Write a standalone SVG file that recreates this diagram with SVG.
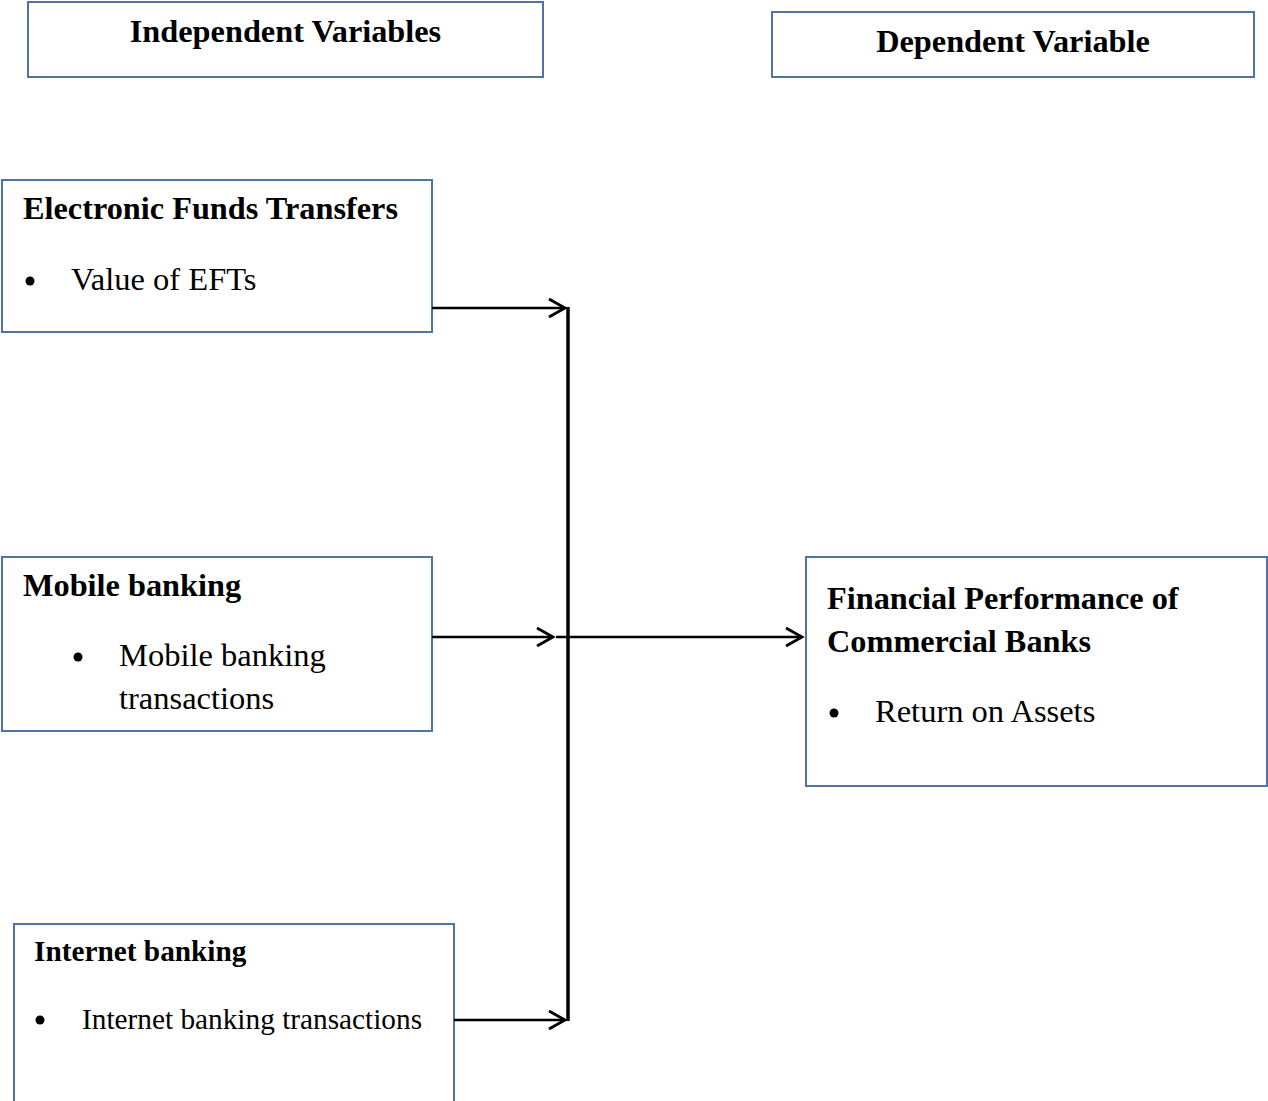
<svg xmlns="http://www.w3.org/2000/svg" width="1268" height="1101" viewBox="0 0 1268 1101">
<style>
.box{fill:#fff;stroke:#4f73a8;stroke-width:2}
.t{font-family:"Liberation Serif","Times New Roman",serif;fill:#000}
.b{font-weight:bold}
.c{stroke:#000;stroke-width:2.6;fill:none}
</style>
<defs>
<marker id="arr" markerUnits="userSpaceOnUse" markerWidth="24" markerHeight="24" refX="20" refY="12" orient="auto">
<path d="M4,3 L20,12 L4,21" fill="none" stroke="#000" stroke-width="2.8"/>
</marker>
</defs>
<rect width="1268" height="1101" fill="#fff"/>
<g id="independent-header">
<rect class="box" x="28" y="2" width="515" height="75"/>
<text class="t b" x="285.5" y="42" font-size="32.3" text-anchor="middle">Independent Variables</text>
</g>
<g id="dependent-header">
<rect class="box" x="772" y="12" width="482" height="65"/>
<text class="t b" x="1013" y="52" font-size="32.3" text-anchor="middle">Dependent Variable</text>
</g>
<g id="eft">
<rect class="box" x="2" y="180" width="430" height="152"/>
<text class="t b" x="23" y="219" font-size="32.3">Electronic Funds Transfers</text>
<circle cx="30" cy="281" r="4.5"/>
<text class="t" x="71" y="290" font-size="32.5">Value of EFTs</text>
</g>
<g id="mobile">
<rect class="box" x="2" y="557" width="430" height="174"/>
<text class="t b" x="23" y="596" font-size="32.3">Mobile banking</text>
<circle cx="78" cy="657" r="4.5"/>
<text class="t" x="119" y="666" font-size="32.5">Mobile banking</text>
<text class="t" x="119" y="709" font-size="32.5">transactions</text>
</g>
<g id="internet">
<rect class="box" x="14" y="924" width="440" height="182"/>
<text class="t b" x="34" y="961" font-size="29.3">Internet banking</text>
<circle cx="40" cy="1020" r="4.5"/>
<text class="t" x="82" y="1029" font-size="29.3">Internet banking transactions</text>
</g>
<g id="performance">
<rect class="box" x="806" y="557" width="461" height="229"/>
<text class="t b" x="827" y="609" font-size="32.3">Financial Performance of</text>
<text class="t b" x="827" y="652" font-size="32.3">Commercial Banks</text>
<circle cx="834" cy="713" r="4.5"/>
<text class="t" x="875" y="722" font-size="32.5">Return on Assets</text>
</g>
<g id="connectors">
<line x1="568" y1="307" x2="568" y2="1021" stroke="#000" stroke-width="3.5"/>
<line class="c" x1="432" y1="308" x2="565" y2="308" marker-end="url(#arr)"/>
<line class="c" x1="432" y1="637" x2="553" y2="637" marker-end="url(#arr)"/>
<line class="c" x1="556" y1="637" x2="802" y2="637" marker-end="url(#arr)"/>
<line class="c" x1="454" y1="1020" x2="565" y2="1020" marker-end="url(#arr)"/>
</g>
</svg>
